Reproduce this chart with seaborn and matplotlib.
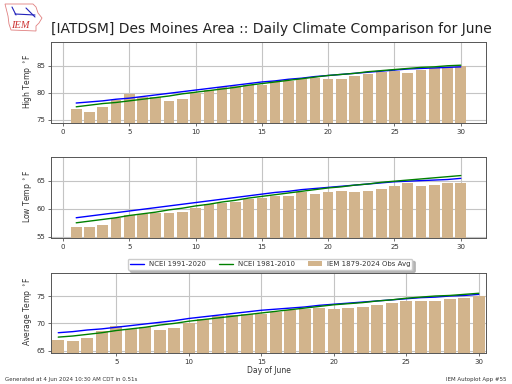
import matplotlib
matplotlib.use('Agg')
import matplotlib.pyplot as plt
import seaborn as sns
import pandas as pd
from matplotlib.patches import Polygon

sns.set_style('ticks')
plt.rcParams['font.family'] = ['DejaVu Sans']

days = list(range(1, 31))

# 1. values
high_obs = [77.0, 76.5, 77.4, 78.7, 79.8, 79.3, 79.2, 78.5, 78.9, 80.0,
            80.6, 81.0, 81.2, 81.4, 81.5, 82.1, 82.1, 82.5, 82.7, 82.6,
            82.6, 83.1, 83.5, 83.8, 84.1, 83.7, 84.3, 84.5, 84.7, 85.0]
high_9120 = [78.1, 78.3, 78.5, 78.8, 79.0, 79.3, 79.6, 79.9, 80.2, 80.5,
             80.8, 81.1, 81.4, 81.7, 82.0, 82.2, 82.5, 82.7, 83.0, 83.2,
             83.4, 83.6, 83.8, 84.0, 84.2, 84.4, 84.5, 84.6, 84.7, 84.8]
high_8110 = [77.4, 77.7, 78.0, 78.2, 78.5, 78.8, 79.1, 79.4, 79.8, 80.1,
             80.4, 80.7, 81.0, 81.4, 81.7, 82.0, 82.3, 82.6, 82.9, 83.2,
             83.4, 83.6, 83.9, 84.1, 84.3, 84.5, 84.7, 84.8, 85.0, 85.1]
low_obs = [56.7, 56.7, 57.2, 58.4, 58.9, 59.1, 59.2, 59.3, 59.5, 60.2,
           60.8, 61.0, 61.2, 61.8, 61.9, 62.2, 62.2, 62.9, 62.7, 62.9,
           63.1, 62.9, 63.1, 63.6, 64.0, 64.5, 64.0, 64.2, 64.5, 64.5]
low_9120 = [58.4, 58.7, 59.0, 59.3, 59.6, 59.9, 60.2, 60.5, 60.8, 61.1,
            61.4, 61.7, 62.0, 62.3, 62.6, 62.9, 63.1, 63.4, 63.6, 63.8,
            64.0, 64.2, 64.4, 64.6, 64.8, 64.9, 65.0, 65.1, 65.2, 65.4]
low_8110 = [57.5, 57.8, 58.1, 58.4, 58.8, 59.1, 59.4, 59.8, 60.1, 60.5,
            60.8, 61.2, 61.5, 61.9, 62.2, 62.5, 62.8, 63.1, 63.4, 63.7,
            63.9, 64.2, 64.4, 64.7, 64.9, 65.1, 65.3, 65.5, 65.7, 65.9]
avg_obs = [66.9, 66.7, 67.4, 68.7, 69.5, 69.0, 69.3, 68.8, 69.2, 70.0,
           70.8, 71.3, 71.5, 71.7, 71.7, 72.1, 72.4, 72.7, 72.9, 72.7,
           72.9, 73.0, 73.4, 73.8, 74.1, 74.1, 74.1, 74.5, 74.7, 75.0]
avg_9120 = [68.3, 68.5, 68.8, 69.0, 69.3, 69.6, 69.9, 70.2, 70.5, 70.9,
            71.2, 71.5, 71.8, 72.1, 72.4, 72.6, 72.8, 73.0, 73.3, 73.5,
            73.7, 73.9, 74.1, 74.3, 74.5, 74.7, 74.8, 75.0, 75.1, 75.3]
avg_8110 = [67.5, 67.7, 68.0, 68.3, 68.7, 69.0, 69.3, 69.7, 70.0, 70.4,
            70.7, 71.0, 71.3, 71.6, 71.9, 72.2, 72.5, 72.8, 73.1, 73.4,
            73.6, 73.8, 74.1, 74.3, 74.6, 74.8, 75.0, 75.1, 75.3, 75.5]
ylabels = ['High Temp $^\\circ$F', 'Low Temp $^\\circ$F', 'Average Temp $^\\circ$F']
yticks = [[75, 80, 85], [55, 60, 65], [65, 70, 75]]
xticks = [[0, 5, 10, 15, 20, 25, 30], [0, 5, 10, 15, 20, 25, 30], [5, 10, 15, 20, 25, 30]]
ylims = [(74.4, 89.4), (54.8, 69.2), (64.6, 79.2)]
xlims = [(-0.9, 31.9), (-0.9, 31.9), (0.5, 30.5)]
series = [(high_obs, high_9120, high_8110), (low_obs, low_9120, low_8110), (avg_obs, avg_9120, avg_8110)]

fig = plt.figure(figsize=(5.12, 3.84), dpi=100)
boxes = [(42, 123), (157, 238), (273, 353)]

for i in range(3):
    top, bot = boxes[i]
    ax = fig.add_axes([51 / 512, 1 - bot / 384, 435 / 512, (bot - top) / 384])
    df = pd.DataFrame({'day': days, 'obs': series[i][0], 'n91': series[i][1], 'n81': series[i][2]})
    sns.barplot(data=df, x='day', y='obs', native_scale=True, color='tan', saturation=1,
                width=0.8, ax=ax, label='IEM 1879-2024 Obs Avg', zorder=2, linewidth=0, edgecolor='none')
    sns.lineplot(data=df, x='day', y='n91', color='blue', lw=1, ax=ax, label='NCEI 1991-2020', zorder=3)
    sns.lineplot(data=df, x='day', y='n81', color='green', lw=1, ax=ax, label='NCEI 1981-2010', zorder=4)
    ax.set_xlim(xlims[i])
    ax.set_ylim(ylims[i])
    ax.set_xticks(xticks[i])
    ax.set_yticks(yticks[i])
    ax.grid(True, color='#c4c4c4', lw=0.8)
    ax.set_axisbelow(True)
    ax.tick_params(labelsize=5, length=2, width=0.5, pad=2, colors='#333333')
    for s in ax.spines.values():
        s.set_color('#555555')
        s.set_linewidth(0.7)
    ax.set_ylabel(ylabels[i], fontsize=5.5, color='#333333', labelpad=2, y=0.52)
    ax.set_xlabel('')
    handles, labels = ax.get_legend_handles_labels()
    ax.get_legend().remove()
    if i == 2:
        ax.set_xlabel('Day of June', fontsize=5.5, color='#333333', labelpad=1)
        order = [labels.index(n) for n in ['NCEI 1991-2020', 'NCEI 1981-2010', 'IEM 1879-2024 Obs Avg']]
        leg = ax.legend([handles[k] for k in order], [labels[k] for k in order], ncol=3, fontsize=5,
                        loc='lower center', bbox_to_anchor=(219 / 435, 1.0), borderaxespad=0.5,
                        frameon=True, shadow={'color': '#aaaaaa', 'alpha': 0.8}, fancybox=True,
                        labelcolor='#333333', borderpad=0.35, columnspacing=1.9, handletextpad=0.7)

fig.text(51 / 512, 1 - 33 / 384, '[IATDSM] Des Moines Area :: Daily Climate Comparison for June',
         fontsize=10, color='#222222')
fig.text(5 / 512, 1 - 381 / 384, 'Generated at 4 Jun 2024 10:30 AM CDT in 0.51s', fontsize=4, color='#333333')
fig.text(506 / 512, 1 - 381 / 384, 'IEM Autoplot App #55', fontsize=4, color='#333333', ha='right')

# IEM logo, rough Iowa outline
state_x = [5, 33, 36, 38, 42, 39, 36, 36, 11, 9, 8, 5]
state_y = [4, 4, 7, 13, 18, 23, 26, 31, 30, 24, 16, 4]
fig.add_artist(Polygon([(a / 512, 1 - b / 384) for a, b in zip(state_x, state_y)], closed=True,
                       fc='white', ec='#e08080', lw=0.6, transform=fig.transFigure))
for lx, ly in [((15, 35), (14, 15)), ((12, 16), (7, 15)), ((26, 35), (8, 17))]:
    fig.add_artist(plt.Line2D([v / 512 for v in lx], [1 - v / 384 for v in ly], color='#2222bb', lw=0.8))
fig.text(11 / 512, 1 - 28 / 384, 'IEM', fontsize=7.5, style='italic', color='#cc3333', family='Liberation Serif')

fig.savefig('out.png', dpi=100)
